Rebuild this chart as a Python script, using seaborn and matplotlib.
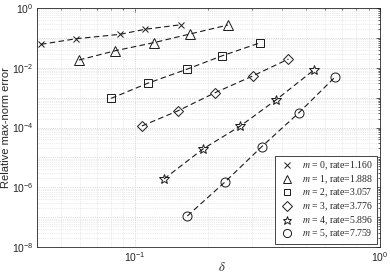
import numpy as np
import pandas as pd
import seaborn as sns
from matplotlib import pyplot as plt
from matplotlib.font_manager import FontProperties
from matplotlib.ticker import LogLocator, NullFormatter

# values
orders = [0, 1, 2, 3, 4, 5]
rates = ["1.160", "1.888", "3.057", "3.776", "5.896", "7.759"]
markers = ["x", "^", "s", "D", "*", "o"]

delta_m0 = [0.0415, 0.0578, 0.0874, 0.110, 0.1545]
err_m0 = [0.061, 0.094, 0.132, 0.194, 0.276]
delta_m1 = [0.0593, 0.0834, 0.1194, 0.168, 0.240]
err_m1 = [0.0182, 0.0373, 0.069, 0.135, 0.27]
delta_m2 = [0.0802, 0.113, 0.163, 0.228, 0.3255]
err_m2 = [0.00095, 0.00303, 0.0089, 0.0254, 0.069]
delta_m3 = [0.107, 0.1497, 0.213, 0.303, 0.424]
err_m3 = [1.13e-4, 3.59e-4, 1.47e-3, 5.32e-3, 0.0197]
delta_m4 = [0.1318, 0.190, 0.270, 0.377, 0.538]
err_m4 = [1.91e-6, 1.92e-5, 1.13e-4, 8.4e-4, 8.4e-3]
delta_m5 = [0.164, 0.233, 0.330, 0.468, 0.659]
err_m5 = [1.1e-7, 1.48e-6, 2.3e-5, 3.15e-4, 5.04e-3]

deltas = [delta_m0, delta_m1, delta_m2, delta_m3, delta_m4, delta_m5]
errors = [err_m0, err_m1, err_m2, err_m3, err_m4, err_m5]

sns.set_theme(style="white")
plt.rcParams["font.family"] = ["Liberation Sans", "DejaVu Sans"]
plt.rcParams["mathtext.fontset"] = "custom"
plt.rcParams["mathtext.rm"] = "Liberation Sans"
plt.rcParams["mathtext.it"] = "Liberation Sans:italic"

fig = plt.figure(figsize=(3.9, 2.77), dpi=100)
ax = fig.add_axes([0.095, 0.108, 0.879, 0.863])

msizes = {"x": 5, "^": 7, "s": 5.5, "D": 5.5, "*": 7, "o": 6.5}
for m, r, mk, d, e in zip(orders, rates, markers, deltas, errors):
    df = pd.DataFrame({"delta": d, "err": e})
    sns.lineplot(data=df, x="delta", y="err", ax=ax, color="k", lw=0.8,
                 linestyle=(0, (5, 3)), marker=mk, markersize=msizes[mk],
                 mfc="none", mec="k", mew=0.7, sort=False, estimator=None,
                 label=f"$m$ = {m}, rate={r}")

ax.set_xscale("log")
ax.set_yscale("log")
ax.set_xlim(0.04, 1.0)
ax.set_ylim(1e-8, 1.0)

ax.yaxis.set_major_locator(LogLocator(base=10, subs=[1.0], numticks=20))
ax.yaxis.set_major_formatter(plt.FuncFormatter(lambda v, p: f"$10^{{{int(round(np.log10(v)))}}}$"
                                               if int(round(np.log10(v))) % 2 == 0 else ""))
ax.yaxis.set_minor_locator(LogLocator(base=10, subs=np.arange(2, 10), numticks=20))
ax.yaxis.set_minor_formatter(NullFormatter())
ax.xaxis.set_minor_locator(LogLocator(base=10, subs=np.arange(2, 10), numticks=20))
ax.xaxis.set_minor_formatter(NullFormatter())

ax.grid(True, which="major", color="#c8c8c8", ls=":", lw=0.6)
ax.grid(True, which="minor", color="#d8d8d8", ls=":", lw=0.5)

ax.tick_params(which="both", direction="in", top=True, right=True,
               colors="#262626", labelsize=7.5, width=0.5)
ax.tick_params(which="major", length=3, pad=2.5)
ax.tick_params(which="minor", length=1.5)
for s in ax.spines.values():
    s.set_color("#262626")
    s.set_linewidth(0.6)

ax.set_xlabel(r"$\delta$", fontsize=9, math_fontfamily="stix")
ax.xaxis.set_label_coords(0.54, -0.06)
ax.set_ylabel("Relative max-norm error", fontsize=8)
ax.yaxis.set_label_coords(-0.075, 0.5)

leg_font = FontProperties(family="Liberation Serif", size=7, math_fontfamily="stix")
leg = ax.legend(loc="lower right", prop=leg_font, frameon=True, fancybox=False,
                edgecolor="#262626", framealpha=1, borderaxespad=0.3,
                handlelength=1.6, handletextpad=0.8, labelspacing=0.12,
                borderpad=0.4, markerscale=0.9)
leg.get_frame().set_linewidth(0.6)
for h in leg.legend_handles:
    h.set_linestyle("none")

fig.savefig("out.png", dpi=100)
